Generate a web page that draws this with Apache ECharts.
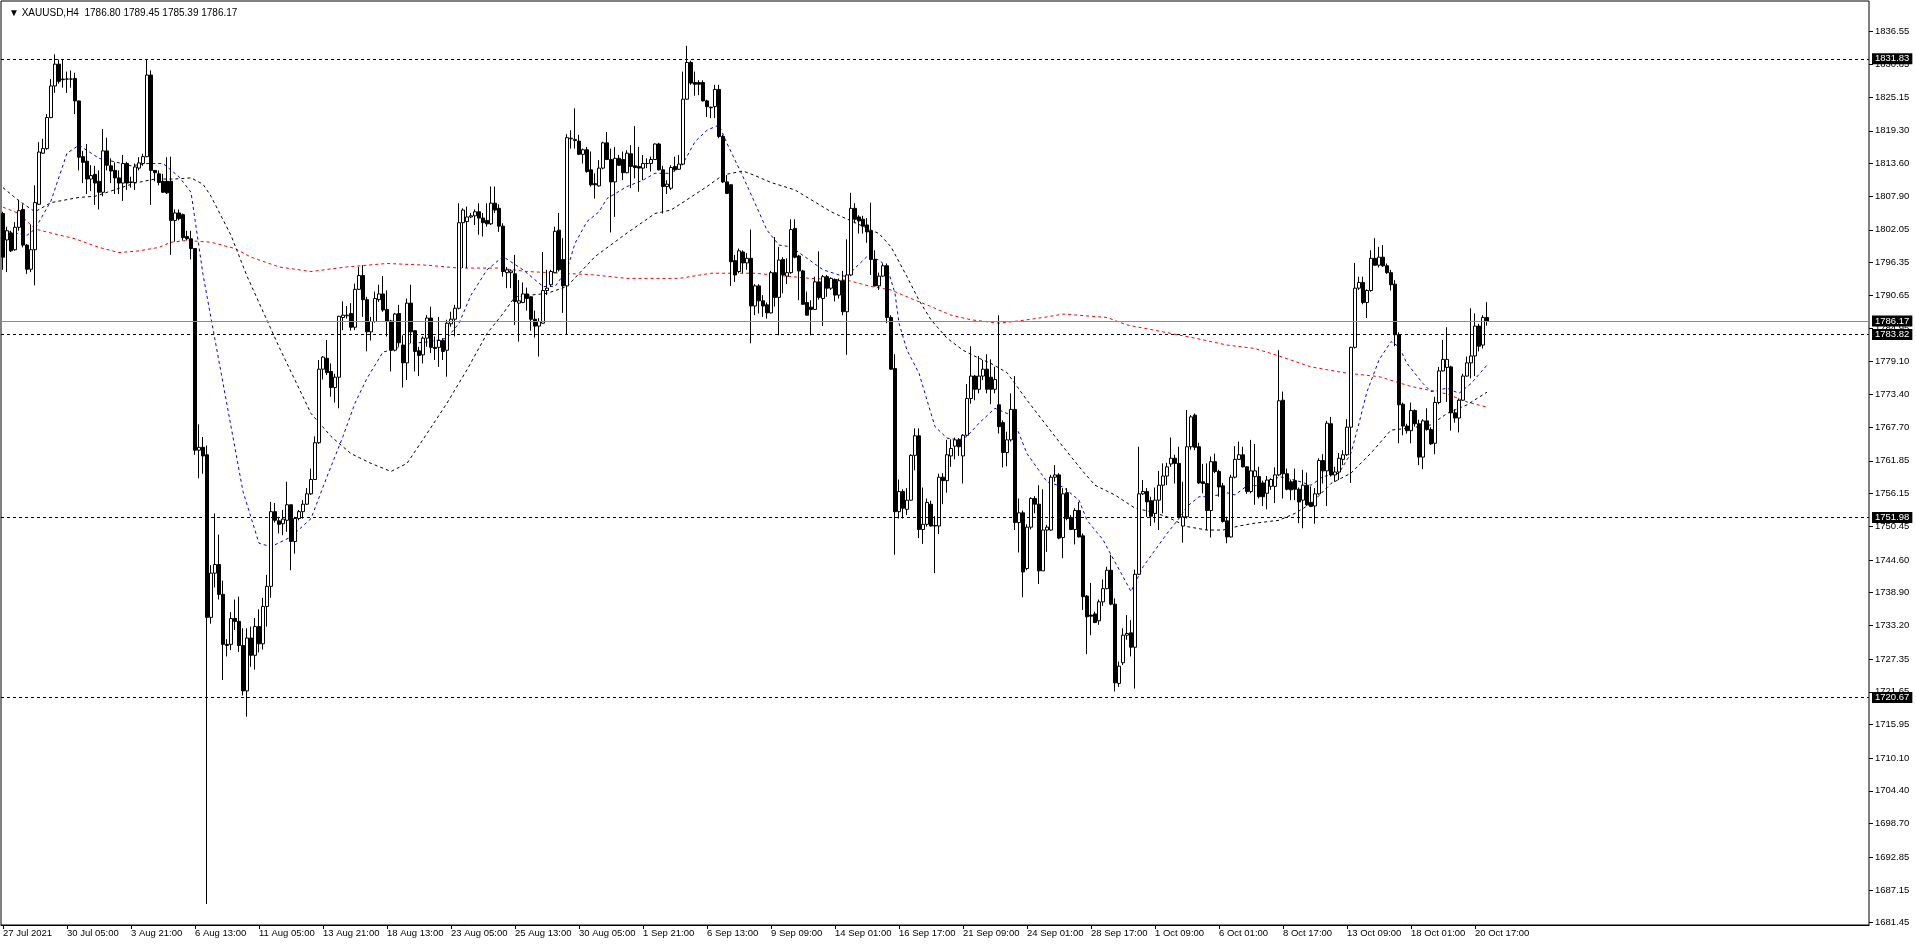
<!DOCTYPE html>
<html><head><meta charset="utf-8">
<script src="https://cdn.jsdelivr.net/npm/echarts@6/dist/echarts.min.js"></script>
<style>html,body{margin:0;padding:0;background:#fff}#c{width:1916px;height:946px}</style>
</head><body><div id="c"></div>
<script>
const symbol = 'XAUUSD,H4';
const xLabels = ['27 Jul 2021','30 Jul 05:00','3 Aug 21:00','6 Aug 13:00','11 Aug 05:00','13 Aug 21:00','18 Aug 13:00','23 Aug 05:00','25 Aug 13:00','30 Aug 05:00','1 Sep 21:00','6 Sep 13:00','9 Sep 09:00','14 Sep 01:00','16 Sep 17:00','21 Sep 09:00','24 Sep 01:00','28 Sep 17:00','1 Oct 09:00','6 Oct 01:00','8 Oct 17:00','13 Oct 09:00','18 Oct 01:00','20 Oct 17:00'];
const yTicks = [1836.55,1830.85,1825.15,1819.30,1813.60,1807.90,1802.05,1796.35,1790.65,1784.95,1779.10,1773.40,1767.70,1761.85,1756.15,1750.45,1744.60,1738.90,1733.20,1727.35,1721.65,1715.95,1710.10,1704.40,1698.70,1692.85,1687.15,1681.45];
const levels = [1831.83,1783.82,1751.98,1720.67];
const bidPrice = 1786.17;
const candles = [
[1804.9,1805.2,1795.1,1797.3],[1800.3,1802.6,1794.7,1801.9],[1801.5,1801.9,1798.2,1798.4],[1798.6,1803.4,1798.4,1802.5],[1802.5,1807.3,1801.9,1805.4],
[1805.6,1806.5,1799.0,1799.4],[1799.4,1799.6,1794.4,1795.2],[1795.2,1803.0,1794.7,1798.6],[1798.6,1809.8,1792.4,1806.8],[1806.5,1817.3,1806.4,1815.6],
[1815.4,1817.9,1815.3,1816.2],[1816.2,1822.2,1816.0,1821.6],[1821.6,1828.3,1821.5,1827.1],[1827.1,1832.6,1825.9,1830.9],[1830.9,1831.7,1827.5,1827.9],
[1828.3,1831.7,1826.8,1828.2],[1828.3,1829.6,1825.9,1828.3],[1828.3,1829.8,1826.8,1828.3],[1828.4,1829.4,1822.2,1824.5],[1824.5,1824.5,1812.4,1814.7],
[1814.8,1815.8,1810.2,1813.8],[1814.0,1817.0,1808.3,1810.9],[1810.9,1813.3,1808.8,1811.5],[1811.7,1813.2,1806.4,1810.2],[1810.5,1812.4,1805.6,1808.6],
[1808.6,1819.6,1807.9,1815.8],[1815.8,1818.1,1812.4,1813.3],[1813.2,1814.5,1810.2,1812.3],[1812.4,1813.8,1808.3,1811.1],[1811.1,1812.4,1808.3,1810.2],
[1810.2,1815.1,1807.1,1813.6],[1813.6,1813.9,1809.0,1810.2],[1810.3,1811.3,1809.4,1810.4],[1810.3,1813.6,1809.0,1813.0],[1812.8,1814.7,1812.4,1813.7],
[1813.6,1815.3,1813.2,1814.8],[1814.8,1831.8,1814.7,1829.0],[1829.0,1829.8,1806.4,1812.4],[1812.4,1812.4,1810.5,1812.0],[1811.8,1812.4,1809.8,1810.3],
[1810.5,1811.8,1808.5,1808.6],[1810.5,1814.7,1808.3,1808.5],[1810.5,1814.8,1797.7,1803.7],[1803.7,1805.6,1800.0,1805.0],[1805.0,1805.6,1803.7,1804.0],
[1804.7,1804.9,1800.2,1800.7],[1800.9,1801.9,1800.2,1800.5],[1800.5,1801.9,1796.9,1798.8],[1798.8,1798.8,1762.9,1763.7],[1763.7,1768.2,1758.8,1764.2],
[1764.2,1766.0,1759.6,1762.7],[1762.9,1764.5,1684.7,1734.6],[1734.6,1743.7,1733.5,1742.3],[1742.3,1752.7,1739.8,1743.8],[1743.8,1749.0,1737.7,1738.6],
[1738.6,1741.0,1723.7,1729.9],[1729.9,1730.8,1727.8,1729.7],[1729.9,1735.5,1728.9,1734.4],[1734.4,1737.7,1732.4,1733.9],[1733.9,1738.2,1728.6,1729.7],
[1729.7,1732.7,1721.0,1721.8],[1721.8,1732.7,1717.3,1731.0],[1731.0,1733.0,1726.0,1728.0],[1728.0,1734.5,1725.5,1733.0],[1733.0,1736.0,1728.5,1730.0],
[1730.0,1738.0,1729.0,1736.5],[1736.5,1742.0,1733.0,1740.0],[1740.0,1754.7,1738.0,1753.0],[1753.0,1754.5,1751.1,1751.5],[1751.4,1752.1,1749.2,1750.8],
[1750.9,1753.3,1748.9,1751.7],[1751.5,1758.2,1749.5,1754.2],[1754.2,1754.2,1742.8,1747.8],[1747.8,1752.1,1745.7,1751.8],[1751.8,1753.3,1751.5,1753.0],
[1753.0,1755.0,1751.8,1754.3],[1754.3,1757.1,1754.2,1756.1],[1756.1,1760.5,1755.9,1758.6],[1758.6,1766.1,1758.5,1765.0],[1765.0,1779.4,1764.8,1777.8],
[1777.8,1780.1,1776.0,1779.9],[1779.7,1782.9,1776.8,1777.2],[1777.4,1778.8,1773.0,1774.6],[1774.6,1777.0,1772.0,1776.4],[1776.4,1787.1,1771.0,1787.0],
[1786.8,1789.6,1784.6,1787.2],[1787.1,1788.8,1786.6,1787.2],[1787.5,1789.3,1784.5,1785.1],[1785.1,1792.7,1784.6,1791.7],[1791.7,1795.6,1791.6,1794.1],
[1794.1,1795.9,1786.9,1789.9],[1789.9,1790.4,1780.9,1784.3],[1784.3,1786.9,1782.8,1786.1],[1786.1,1791.3,1785.9,1790.1],[1789.9,1792.5,1789.5,1790.9],
[1790.9,1794.0,1787.8,1788.1],[1788.2,1791.5,1783.5,1786.1],[1786.2,1786.4,1777.4,1781.1],[1781.1,1787.6,1780.9,1787.4],[1787.5,1789.0,1781.7,1782.4],
[1782.0,1783.7,1774.6,1778.9],[1778.9,1790.1,1775.9,1789.3],[1789.3,1792.5,1782.3,1784.3],[1784.5,1784.6,1777.4,1780.9],[1781.0,1781.7,1776.6,1780.2],
[1780.3,1783.5,1778.8,1783.2],[1783.2,1787.2,1781.7,1786.7],[1786.7,1788.7,1780.6,1781.6],[1781.6,1783.5,1779.4,1781.4],[1781.6,1786.9,1778.2,1782.8],
[1782.8,1783.2,1779.4,1780.9],[1781.1,1786.4,1776.5,1785.8],[1785.7,1787.8,1785.2,1786.5],[1786.5,1789.0,1783.5,1788.4],[1788.4,1806.7,1788.2,1803.3],
[1803.3,1805.8,1795.4,1805.5],[1803.5,1806.1,1795.4,1804.3],[1804.3,1805.0,1804.1,1804.5],[1804.5,1805.6,1802.9,1805.2],[1805.2,1806.7,1801.2,1804.1],
[1804.1,1805.0,1800.9,1803.3],[1803.7,1806.7,1802.6,1803.1],[1803.1,1809.6,1802.9,1806.7],[1806.7,1809.6,1805.0,1805.5],[1805.8,1806.5,1801.7,1802.7],
[1802.7,1803.2,1793.9,1794.8],[1794.6,1795.6,1791.9,1795.1],[1794.6,1795.2,1791.9,1794.9],[1794.4,1797.7,1785.5,1789.6],[1789.3,1793.3,1782.6,1789.7],
[1789.4,1792.9,1789.3,1790.9],[1790.9,1792.0,1788.0,1790.1],[1790.4,1790.5,1784.5,1786.5],[1786.5,1788.0,1783.3,1785.3],[1785.3,1786.7,1780.0,1786.1],
[1785.8,1798.2,1785.7,1791.5],[1791.5,1795.1,1790.7,1791.9],[1792.5,1795.1,1792.2,1794.8],[1794.6,1802.6,1794.5,1801.8],[1802.0,1805.0,1794.8,1795.1],
[1796.9,1800.6,1787.6,1792.3],[1792.3,1818.7,1783.9,1818.1],[1817.9,1819.4,1816.2,1818.0],[1817.6,1823.2,1816.2,1817.8],[1817.5,1818.6,1815.1,1815.2],
[1815.2,1816.2,1813.6,1816.0],[1816.0,1816.5,1812.0,1812.2],[1812.5,1815.7,1809.6,1809.9],[1810.1,1811.9,1807.5,1809.9],[1809.7,1814.2,1809.6,1812.8],
[1812.8,1817.4,1812.6,1817.2],[1817.2,1819.1,1814.2,1814.3],[1814.3,1816.2,1801.6,1810.4],[1810.4,1816.5,1804.3,1814.5],[1814.5,1815.1,1813.2,1813.3],
[1814.3,1815.7,1810.7,1812.0],[1812.0,1815.9,1811.9,1815.4],[1815.3,1816.8,1809.3,1813.1],[1813.2,1820.1,1811.0,1812.9],[1813.1,1816.5,1808.7,1812.8],
[1812.8,1815.1,1810.7,1813.6],[1813.6,1814.5,1812.8,1813.6],[1813.6,1814.8,1812.2,1814.3],[1814.3,1817.1,1814.2,1817.0],[1817.0,1817.2,1812.4,1812.5],
[1812.5,1813.2,1804.9,1809.6],[1809.6,1810.7,1808.3,1810.0],[1809.3,1813.3,1809.0,1812.9],[1813.1,1814.8,1812.2,1812.5],[1812.6,1815.1,1812.5,1813.5],
[1813.5,1829.6,1813.3,1824.8],[1824.8,1834.1,1824.7,1831.2],[1831.2,1831.5,1827.3,1827.6],[1827.7,1829.6,1825.4,1827.4],[1827.7,1828.1,1825.5,1827.4],
[1827.7,1828.1,1824.4,1824.5],[1824.5,1824.7,1821.7,1823.5],[1823.4,1823.5,1821.5,1823.3],[1823.5,1827.3,1821.5,1826.5],[1826.5,1827.3,1818.0,1818.3],
[1818.3,1818.6,1810.2,1810.4],[1810.4,1811.6,1808.3,1808.4],[1809.9,1809.9,1792.3,1796.5],[1796.7,1797.7,1793.0,1794.2],[1794.8,1798.8,1794.5,1798.4],
[1798.2,1798.5,1794.5,1796.3],[1796.3,1798.0,1795.1,1797.1],[1797.1,1802.1,1782.3,1788.8],[1788.8,1792.6,1787.2,1792.3],[1792.3,1792.6,1787.5,1789.7],
[1789.7,1790.7,1786.9,1788.8],[1789.0,1789.4,1786.6,1787.6],[1787.6,1794.9,1787.5,1794.6],[1794.6,1800.8,1788.7,1790.3],[1790.3,1799.1,1783.7,1796.8],
[1796.9,1797.3,1791.0,1794.2],[1794.0,1797.1,1792.6,1794.6],[1794.6,1803.9,1794.4,1802.1],[1802.3,1803.9,1797.1,1797.3],[1797.5,1797.7,1789.8,1794.9],
[1794.9,1795.1,1789.0,1789.1],[1789.4,1791.3,1787.1,1787.2],[1788.6,1789.8,1783.7,1788.2],[1788.2,1793.9,1788.1,1793.0],[1793.0,1798.3,1789.9,1790.3],
[1790.1,1794.2,1785.3,1793.9],[1793.9,1794.2,1790.4,1791.9],[1791.9,1793.8,1791.6,1793.6],[1793.4,1793.6,1789.6,1790.7],[1790.7,1793.6,1790.1,1793.2],
[1793.2,1794.9,1787.2,1787.8],[1787.8,1800.4,1780.3,1794.2],[1794.2,1808.5,1794.0,1805.8],[1805.8,1806.7,1803.2,1803.9],[1804.3,1804.6,1801.4,1803.6],
[1803.9,1804.5,1801.4,1802.7],[1802.9,1804.1,1799.8,1801.7],[1801.9,1806.8,1794.2,1796.9],[1796.9,1798.5,1792.2,1792.3],[1792.3,1794.6,1791.6,1794.0],
[1794.0,1796.2,1793.9,1795.8],[1795.8,1796.2,1785.8,1786.8],[1786.8,1787.2,1777.7,1777.8],[1777.9,1780.4,1745.5,1753.0],[1753.0,1758.6,1751.8,1756.5],
[1756.5,1756.9,1751.8,1753.6],[1753.4,1757.1,1752.4,1755.0],[1755.0,1763.0,1754.9,1762.8],[1762.8,1767.5,1760.2,1766.2],[1766.2,1767.5,1748.4,1749.9],
[1749.9,1757.2,1747.4,1750.8],[1750.8,1755.3,1750.4,1754.6],[1754.3,1754.9,1750.4,1750.5],[1750.6,1752.2,1742.3,1750.5],[1750.5,1759.6,1749.1,1759.0],
[1759.0,1759.7,1754.3,1758.4],[1758.4,1765.5,1756.3,1762.9],[1762.7,1765.6,1760.8,1764.0],[1764.4,1765.9,1762.1,1765.5],[1765.5,1765.8,1762.7,1764.3],
[1762.7,1766.5,1757.9,1766.3],[1766.3,1775.2,1766.2,1772.7],[1772.7,1781.8,1771.8,1776.6],[1776.6,1776.8,1772.4,1774.3],[1774.3,1780.1,1773.6,1776.6],
[1776.6,1779.4,1775.9,1777.8],[1777.8,1780.4,1773.6,1774.3],[1776.4,1779.5,1771.7,1774.3],[1774.3,1778.2,1773.6,1776.0],[1771.6,1787.2,1766.6,1767.8],
[1768.5,1768.9,1760.7,1763.3],[1763.3,1766.9,1760.9,1765.5],[1765.5,1773.6,1765.2,1770.8],[1770.8,1776.6,1749.8,1751.1],[1751.1,1755.3,1745.9,1752.8],
[1752.8,1753.2,1738.1,1742.5],[1743.1,1750.8,1742.8,1750.3],[1750.3,1755.5,1749.9,1755.3],[1755.3,1755.7,1752.7,1754.3],[1754.3,1757.6,1740.4,1742.7],
[1742.7,1756.9,1742.7,1749.8],[1749.8,1750.7,1746.0,1750.3],[1749.8,1759.4,1749.7,1759.0],[1759.0,1761.1,1758.2,1759.4],[1759.4,1759.7,1748.2,1748.4],
[1748.5,1757.1,1744.9,1756.1],[1756.3,1757.1,1751.5,1751.8],[1752.0,1752.4,1749.8,1749.9],[1749.9,1753.6,1747.3,1753.2],[1753.2,1754.7,1748.5,1748.6],
[1748.8,1749.2,1735.9,1738.2],[1738.3,1738.5,1728.2,1734.7],[1735.0,1740.6,1731.5,1734.8],[1735.2,1735.6,1733.6,1733.7],[1734.0,1737.7,1733.3,1737.3],
[1737.3,1741.2,1736.6,1739.6],[1739.6,1743.4,1739.5,1742.8],[1742.8,1745.5,1736.7,1736.9],[1736.9,1737.9,1721.7,1723.2],[1723.1,1726.9,1722.5,1726.1],
[1726.7,1732.7,1726.3,1731.5],[1731.5,1735.0,1730.7,1731.8],[1731.9,1734.1,1727.8,1729.4],[1729.4,1742.9,1722.2,1742.1],[1742.1,1764.3,1742.0,1756.1],
[1756.1,1758.5,1755.9,1756.5],[1756.5,1757.1,1752.1,1754.7],[1754.9,1755.6,1750.5,1752.2],[1752.7,1757.2,1751.1,1755.0],[1755.0,1760.1,1749.8,1757.6],
[1757.6,1761.4,1752.7,1759.2],[1759.2,1761.5,1757.6,1760.8],[1761.3,1765.9,1760.8,1762.3],[1762.3,1762.9,1757.9,1761.4],[1761.4,1764.3,1751.8,1752.0],
[1750.5,1758.2,1747.6,1752.1],[1752.1,1770.7,1751.8,1764.3],[1764.3,1769.8,1763.8,1769.5],[1769.8,1770.1,1763.7,1764.2],[1764.3,1765.0,1757.8,1758.0],
[1758.2,1761.3,1756.2,1757.9],[1757.9,1761.4,1749.8,1753.2],[1753.2,1762.6,1748.5,1761.7],[1761.7,1763.1,1759.7,1760.0],[1760.0,1760.3,1755.6,1757.3],
[1757.5,1758.0,1751.1,1751.3],[1751.4,1752.1,1747.5,1748.6],[1748.6,1759.4,1748.5,1759.0],[1759.0,1764.4,1758.8,1762.1],[1762.1,1765.2,1762.0,1762.9],
[1762.9,1764.3,1760.7,1760.8],[1760.8,1760.9,1756.1,1756.5],[1756.5,1765.5,1756.2,1760.1],[1759.1,1764.8,1754.2,1760.1],[1759.1,1760.8,1755.3,1755.6],
[1758.0,1758.4,1754.0,1755.6],[1756.2,1759.2,1753.4,1758.5],[1757.4,1758.8,1756.8,1758.6],[1757.4,1760.7,1754.5,1759.4],[1759.4,1781.1,1759.2,1772.3],
[1772.4,1773.9,1755.3,1759.6],[1759.6,1760.5,1756.7,1756.9],[1758.2,1758.6,1755.0,1756.8],[1758.4,1760.5,1755.0,1756.9],[1756.9,1757.2,1751.0,1754.7],
[1755.0,1760.3,1750.1,1757.6],[1757.6,1759.8,1754.0,1754.2],[1754.6,1757.4,1753.8,1753.9],[1754.0,1757.1,1750.9,1756.1],[1756.1,1762.3,1755.9,1761.9],
[1761.9,1763.0,1757.9,1760.1],[1760.1,1768.8,1754.0,1768.4],[1768.3,1769.5,1759.1,1759.4],[1759.4,1760.8,1758.2,1759.9],[1759.9,1763.2,1758.5,1762.3],
[1762.1,1763.7,1761.1,1762.9],[1762.9,1769.1,1762.7,1767.7],[1767.7,1781.7,1758.0,1781.6],[1781.6,1796.3,1781.4,1791.9],[1791.9,1793.9,1791.6,1792.9],
[1792.9,1793.9,1789.1,1789.4],[1789.4,1791.7,1786.7,1791.5],[1791.5,1798.5,1791.3,1797.1],[1797.1,1800.6,1795.8,1795.9],[1795.9,1799.1,1795.5,1797.3],
[1797.3,1799.4,1795.6,1795.8],[1795.8,1796.2,1794.4,1794.6],[1794.6,1795.1,1791.5,1792.5],[1792.6,1793.3,1781.8,1783.8],[1783.8,1784.2,1764.9,1771.6],
[1771.7,1772.0,1766.3,1767.9],[1767.9,1768.3,1766.6,1767.1],[1767.1,1772.0,1764.9,1770.6],[1770.6,1770.8,1767.8,1768.3],[1768.3,1769.0,1761.1,1762.5],
[1762.5,1769.1,1760.4,1768.8],[1768.8,1771.0,1767.1,1767.3],[1767.3,1767.7,1764.6,1764.8],[1764.9,1773.0,1763.0,1772.0],[1772.0,1778.2,1771.7,1777.5],
[1777.5,1782.9,1777.4,1779.5],[1778.1,1785.1,1772.1,1779.5],[1778.2,1778.4,1767.1,1770.2],[1770.2,1770.8,1768.5,1769.3],[1769.3,1772.7,1766.8,1772.4],
[1772.4,1777.0,1772.3,1776.6],[1776.6,1780.0,1776.5,1778.9],[1778.9,1788.4,1776.2,1780.1],[1780.1,1787.5,1776.6,1785.3],[1785.3,1785.7,1780.9,1781.8],
[1782.0,1787.2,1781.4,1786.8],[1786.80,1789.45,1785.39,1786.17]
];
const maFast = [[0,1801.9],[6,1801.1],[8,1802.2],[12,1807.1],[16,1815.4],[19,1816.8],[24,1814.5],[28,1813.9],[32,1813.2],[36,1813.6],[40,1813.6],[44,1811.3],[47,1808.6],[50,1794.3],[52,1786.7],[56,1771.6],[60,1756.5],[64,1747.5],[67,1746.9],[72,1748.6],[77,1751.8],[81,1759.1],[85,1766.1],[88,1771.9],[91,1776.2],[95,1780.8],[97,1781.1],[102,1782.3],[107,1782.6],[111,1783.2],[114,1785.8],[117,1790.7],[121,1795.1],[125,1797.4],[130,1795.1],[135,1792.2],[138,1792.2],[141,1795.1],[143,1799.7],[146,1803.5],[149,1805.2],[151,1807.5],[156,1809.6],[160,1810.7],[163,1811.9],[167,1811.9],[170,1813.6],[173,1817.4],[176,1819.4],[179,1820.3],[181,1817.1],[185,1811.3],[188,1806.7],[191,1802.0],[194,1799.4],[197,1799.1],[201,1797.1],[205,1795.1],[209,1794.2],[211,1793.9],[213,1795.4],[216,1797.4],[219,1796.8],[221,1795.6],[223,1791.0],[224,1785.8],[226,1781.1],[229,1777.1],[231,1772.4],[233,1767.8],[236,1765.8],[239,1765.5],[241,1766.1],[244,1768.4],[248,1771.0],[252,1769.8],[254,1766.6],[256,1763.1],[261,1758.2],[265,1757.3],[269,1755.0],[271,1751.5],[275,1748.1],[277,1745.5],[280,1741.7],[282,1739.1],[285,1743.4],[288,1746.3],[291,1749.2],[294,1751.8],[296,1753.9],[299,1755.6],[302,1755.6],[306,1756.3],[308,1755.9],[311,1757.5],[316,1757.6],[319,1759.1],[323,1758.5],[327,1757.6],[330,1759.1],[334,1759.7],[337,1763.2],[339,1768.4],[341,1773.9],[344,1779.4],[347,1782.6],[349,1781.7],[351,1778.8],[355,1775.3],[357,1773.9],[361,1774.5],[364,1773.6],[367,1775.3],[371,1778.5]];
const maMid = [[0,1809.4],[4,1807.1],[8,1805.2],[12,1806.8],[19,1807.7],[23,1807.9],[33,1810.2],[38,1810.9],[43,1810.9],[47,1811.1],[50,1810.0],[52,1807.9],[57,1801.1],[61,1794.0],[69,1781.7],[77,1770.1],[82,1766.1],[87,1763.1],[92,1761.4],[97,1760.0],[101,1761.4],[106,1766.6],[111,1771.9],[116,1777.7],[121,1784.0],[125,1787.5],[128,1790.4],[136,1791.0],[141,1792.2],[148,1797.4],[156,1801.5],[163,1804.9],[167,1805.5],[171,1807.3],[176,1809.6],[180,1811.6],[185,1812.3],[188,1811.5],[192,1810.3],[198,1809.0],[207,1805.2],[213,1803.3],[219,1801.4],[222,1799.1],[226,1793.9],[229,1789.8],[232,1786.4],[236,1783.2],[240,1781.1],[244,1779.7],[247,1778.8],[251,1777.2],[256,1772.4],[265,1764.3],[270,1760.0],[273,1757.6],[278,1755.9],[283,1753.6],[287,1753.0],[291,1752.1],[296,1750.4],[301,1749.8],[305,1749.8],[309,1750.5],[313,1751.0],[319,1751.5],[323,1752.7],[327,1754.4],[332,1757.9],[337,1759.7],[342,1763.2],[347,1767.2],[351,1767.5],[357,1768.1],[361,1770.1],[366,1771.6],[371,1773.8]];
const maSlow = [[0,1806.0],[4,1804.9],[8,1802.2],[12,1801.5],[18,1800.5],[24,1799.0],[29,1798.1],[34,1798.4],[39,1799.0],[42,1799.9],[46,1800.2],[52,1799.9],[58,1798.8],[62,1797.3],[69,1795.6],[77,1794.8],[86,1795.6],[96,1796.2],[106,1795.9],[114,1795.4],[124,1795.4],[131,1794.8],[140,1794.5],[148,1794.2],[156,1793.6],[169,1793.6],[177,1794.5],[188,1794.5],[202,1793.6],[211,1793.3],[217,1792.2],[222,1791.6],[227,1790.1],[232,1788.7],[237,1787.2],[242,1786.4],[249,1785.8],[255,1786.3],[261,1786.9],[265,1787.4],[276,1786.8],[281,1785.5],[290,1784.3],[298,1783.2],[306,1782.0],[313,1781.4],[319,1780.1],[327,1778.2],[336,1777.1],[344,1776.5],[352,1774.8],[361,1773.5],[366,1772.1],[371,1771.2]];

const LABEL_STEP = 16;
const SLOTS = 467;
const cats = [];
for (let i = 0; i < SLOTS; i++) cats.push(String(i));
const kData = candles.map(c => [c[0], c[3], c[2], c[1]]);
const last = candles[candles.length - 1];
const FONT = 'Liberation Sans';
const showLab = i => i % LABEL_STEP === 0 && (i / LABEL_STEP) < xLabels.length;

const chart = echarts.init(document.getElementById('c'), null, {renderer: 'canvas'});
const boxLabel = {
  show: true, position: 'end', distance: 3, color: '#fff', backgroundColor: '#000',
  padding: [1, 3, 0, 3], fontFamily: FONT, fontSize: 9.5,
  formatter: p => Number(p.value).toFixed(2)
};
chart.setOption({
  animation: false,
  backgroundColor: '#fff',
  title: {
    text: '\u25BC ' + symbol + '  ' + last.map(v => v.toFixed(2)).join(' '),
    left: 4, top: 3,
    textStyle: {fontFamily: FONT, fontSize: 10, fontWeight: 'normal', color: '#000'}
  },
  grid: {left: 1, right: 47, top: 1, bottom: 21, show: true, borderColor: '#000', borderWidth: 1, backgroundColor: '#fff'},
  xAxis: {
    type: 'category', data: cats, boundaryGap: true,
    axisLine: {show: true, lineStyle: {color: '#000'}},
    axisTick: {show: true, interval: (i) => showLab(i), alignWithLabel: true, length: 4, lineStyle: {color: '#000'}},
    axisLabel: {
      show: true, interval: (i) => showLab(i), align: 'left', margin: 3,
      formatter: (v, i) => xLabels[Math.round(i / LABEL_STEP)] || '',
      fontFamily: FONT, fontSize: 9.5, color: '#000'
    },
    splitLine: {show: false}
  },
  yAxis: {
    type: 'value', position: 'right', scale: true, min: 1681.05, max: 1841.89,
    axisLine: {show: false},
    axisTick: {show: true, customValues: yTicks, length: 4, lineStyle: {color: '#000'}},
    axisLabel: {show: true, customValues: yTicks, margin: 6, formatter: v => v.toFixed(2), fontFamily: FONT, fontSize: 9.5, color: '#000'},
    splitLine: {show: false}
  },
  series: [
    {
      type: 'candlestick', data: kData, barWidth: 3, z: 3,
      itemStyle: {color: '#fff', color0: '#000', borderColor: '#000', borderColor0: '#000', borderWidth: 1},
      markLine: {
        silent: true, symbol: ['none', 'none'], animation: false, z: 5,
        data: levels.map(v => ({yAxis: v, lineStyle: {color: '#000', type: [3, 3], width: 1}, label: boxLabel}))
          .concat([{yAxis: bidPrice, lineStyle: {color: '#7f8fa0', type: 'solid', width: 1}, label: boxLabel}])
      }
    },
    {type: 'line', data: maSlow, symbol: 'none', z: 2, lineStyle: {color: '#ff0000', width: 1, type: [3, 3]}},
    {type: 'line', data: maMid, symbol: 'none', z: 2, lineStyle: {color: '#000', width: 1, type: [3, 3]}},
    {type: 'line', data: maFast, symbol: 'none', z: 2, lineStyle: {color: '#0000ff', width: 1, type: [3, 3]}}
  ]
});
</script></body></html>
